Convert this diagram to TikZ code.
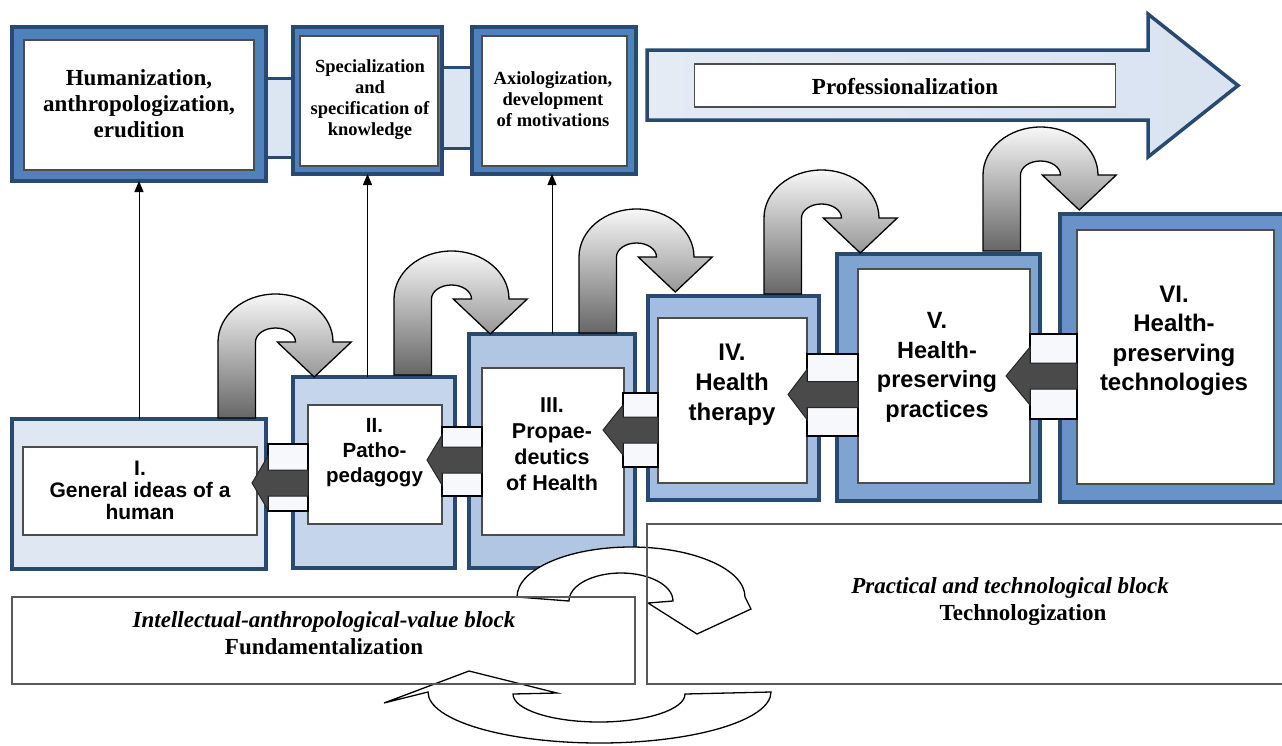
\documentclass[tikz,border=0pt]{standalone}
\usepackage{fontspec}
\setmainfont{Liberation Serif}
\newfontfamily\sansfam{Liberation Sans}
\usetikzlibrary{arrows.meta}
\definecolor{navy}{HTML}{294A70}
\definecolor{topblue}{HTML}{4F81BD}
\definecolor{lightc}{HTML}{DCE6F2}
\definecolor{fI}{HTML}{DFE7F3}
\definecolor{fII}{HTML}{C5D6EC}
\definecolor{fIII}{HTML}{B0C6E2}
\definecolor{fIV}{HTML}{A2BDE1}
\definecolor{fV}{HTML}{80A4D1}
\definecolor{fVI}{HTML}{6892C8}
\definecolor{barc}{HTML}{4A4A4A}
\definecolor{linkfill}{HTML}{F6F8FC}
\definecolor{profL}{HTML}{E4EBF5}
\definecolor{profM}{HTML}{B8CBE7}
\definecolor{profR}{HTML}{D9E3F1}
\newcommand\linkarrow[7]{% x1, x2, ry1, ry2, yc, head half, tip x
  \path[linkrect] (#1,#3) rectangle (#2,#4);
  \path[barstyle] (#2,#5-13) -- (#1,#5-13) -- (#1,#5-#6) -- (#7,#5) -- (#1,#5+#6) -- (#1,#5+13) -- (#2,#5+13) -- cycle;}
\newcommand\uturnarrow[2]{% left x of shaft, bottom y
  \path[uturnstyle] (#1,#2) -- (#1,#2-76)
    arc[start angle=180, end angle=0, x radius=57.5pt, y radius=48pt]
    -- ++(18.25,0) -- ++(-37,35) -- ++(-37,-35) -- ++(18.25,0)
    arc[start angle=0, end angle=180, x radius=20pt, y radius=14pt]
    -- (#1+37.5,#2) -- cycle;}
\begin{document}
\begin{tikzpicture}[x=1pt,y=-1pt,
  outerbox/.style={draw=navy, line width=4pt, inner sep=0pt, outer sep=0pt},
  innerbox/.style={draw=black!70, line width=1.2pt, fill=white, inner sep=0pt, outer sep=0pt},
  conn/.style={draw=navy, line width=3pt, fill=lightc},
  linkrect/.style={draw=black, line width=1.2pt, fill=linkfill},
  barstyle/.style={draw=black!85, line width=1pt, fill=barc},
  uturnstyle/.style={draw=black, line width=1.3pt, top color=white!97!black, bottom color=black!60},
  cycarrow/.style={draw=black, line width=1.3pt, fill=white},
  blockrect/.style={draw=black!65, line width=1.2pt, inner sep=0pt},
  thinarrow/.style={line width=1pt, -{Triangle[length=11pt,width=9pt]}},
  serift/.style n args={2}{font=\bfseries\fontsize{#1}{#2}\selectfont, align=center, inner sep=0pt},
  sanst/.style n args={2}{font=\sansfam\bfseries\fontsize{#1}{#2}\selectfont, align=center, inner sep=0pt},
  profarrow/.style={draw=navy, line width=3.5pt, left color=profL, middle color=profM, right color=profR}
]
\useasboundingbox (0,0) rectangle (1282,745);

% top connectors
\path[conn] (266,78) rectangle (293,157);
\path[conn] (440,67) rectangle (473,148);

% top boxes
\node[outerbox, fill=topblue, minimum width=254pt, minimum height=154pt] (A) at (139,104) {};
\node[innerbox, minimum width=230pt, minimum height=130pt] (Ai) at (139,105) {};
\node[outerbox, fill=topblue, minimum width=149pt, minimum height=147pt] (B) at (367.5,100.5) {};
\node[innerbox, minimum width=138pt, minimum height=130pt] (Bi) at (369,101) {};
\node[outerbox, fill=topblue, minimum width=164pt, minimum height=147pt] (C) at (554,100.5) {};
\node[innerbox, minimum width=145pt, minimum height=130pt] (Ci) at (554.5,101) {};

\node[serift={23}{26}] (tA) at (139,104) {Humanization,\\anthropologization,\\erudition};
\node[serift={18.5}{21}] (tB) at (370,100) {Specialization\\and\\specification of\\knowledge};
\node[serift={18.5}{21}] (tC) at (553,99.5) {Axiologization,\\development\\of motivations};

% professionalization arrow
\path[profarrow] (647,50) -- (1148,50) -- (1148,14) -- (1238,85.5) -- (1148,157) -- (1148,120) -- (647,120) -- cycle;
\node[innerbox, minimum width=421pt, minimum height=43pt] (P) at (905,85.5) {};
\node[serift={23}{26}] (tP) at (905,87) {Professionalization};

% main boxes
\node[outerbox, fill=fI, minimum width=254pt, minimum height=150pt] (I) at (139,494) {};
\node[innerbox, minimum width=234pt, minimum height=88pt] (Ii) at (140,491) {};
\node[outerbox, fill=fII, minimum width=162pt, minimum height=191pt] (II) at (374,472.5) {};
\node[innerbox, minimum width=134pt, minimum height=119pt] (IIi) at (375,464.5) {};
\node[outerbox, fill=fIII, minimum width=166pt, minimum height=234pt] (III) at (552,451) {};
\node[innerbox, minimum width=142pt, minimum height=167pt] (IIIi) at (553,451.5) {};
\node[outerbox, fill=fIV, minimum width=171pt, minimum height=204pt] (IV) at (733.5,398) {};
\node[innerbox, minimum width=149pt, minimum height=165pt] (IVi) at (732.5,400.5) {};
\node[outerbox, fill=fV, minimum width=203pt, minimum height=247pt] (V) at (938.5,377.5) {};
\node[innerbox, minimum width=172pt, minimum height=214pt] (Vi) at (944,376) {};
\node[outerbox, fill=fVI, minimum width=230pt, minimum height=288pt] (VI) at (1175,358) {};
\node[innerbox, minimum width=197pt, minimum height=254pt] (VIi) at (1175.5,357) {};

% link arrows between main boxes
\linkarrow{268}{308}{444}{511}{483}{27}{252}
\linkarrow{442}{482}{427}{496}{460}{25}{427}
\linkarrow{623}{658}{393}{467}{430}{25}{603}
\linkarrow{807}{858}{354}{436}{394.5}{25}{788}
\linkarrow{1030}{1077}{334}{419}{376}{29}{1006}

% texts of main boxes
\node[sanst={21}{22}] (tI) at (140,490) {I.\\General ideas of a\\human};
\node[sanst={20.5}{25}] (tII) at (374.5,453) {II.\\Patho-\\pedagogy};
\node[sanst={21.5}{26}] (tIII) at (552,444) {III.\\Propae-\\deutics\\of Health};
\node[sanst={24}{30}] (tIV) at (732,385) {IV.\\Health\\therapy};
\node[sanst={23.5}{29.5}] (tV) at (937,367.5) {V.\\Health-\\preserving\\practices};
\node[sanst={24}{29.5}] (tVI) at (1174,341) {VI.\\Health-\\preserving\\technologies};

% U-turn arrows
\uturnarrow{218}{418}
\uturnarrow{394}{375}
\uturnarrow{579}{333}
\uturnarrow{764}{294}
\uturnarrow{983}{251}

% thin arrows up
\draw[thinarrow] (I.north) -- (A.south);
\draw[thinarrow] (B.south |- II.north) -- (B.south);
\draw[thinarrow] (III.north) -- (III.north |- C.south);

% circular arrows at the bottom
\path[cycarrow] (517,597) arc[start angle=180, end angle=0, x radius=114pt, y radius=50pt]
  -- (751,609) -- (697,634) -- (648,603) -- (673,601)
  arc[start angle=0, end angle=180, x radius=52pt, y radius=28pt] -- cycle;
\path[cycarrow] (771,692) arc[start angle=0, end angle=-180, x radius=171.5pt, y radius=51pt]
  -- (384,703) -- (469,671) -- (557,693) -- (513,694)
  arc[start angle=180, end angle=360, x radius=86pt, y radius=28pt] -- cycle;

% bottom blocks
\node[blockrect, minimum width=623pt, minimum height=87pt] (L) at (323.5,640.5) {};
\node[blockrect, minimum width=643pt, minimum height=160pt] (R) at (968.5,604) {};
\node[serift={23}{27}] (tL) at (324,633.5) {\textit{Intellectual-anthropological-value block}\\Fundamentalization};
\node[serift={23}{27}] (tR1) at (1010,588) {\textit{Practical and technological block}};
\node[serift={23}{27}] (tR2) at (1023,615) {Technologization};
\end{tikzpicture}
\end{document}
